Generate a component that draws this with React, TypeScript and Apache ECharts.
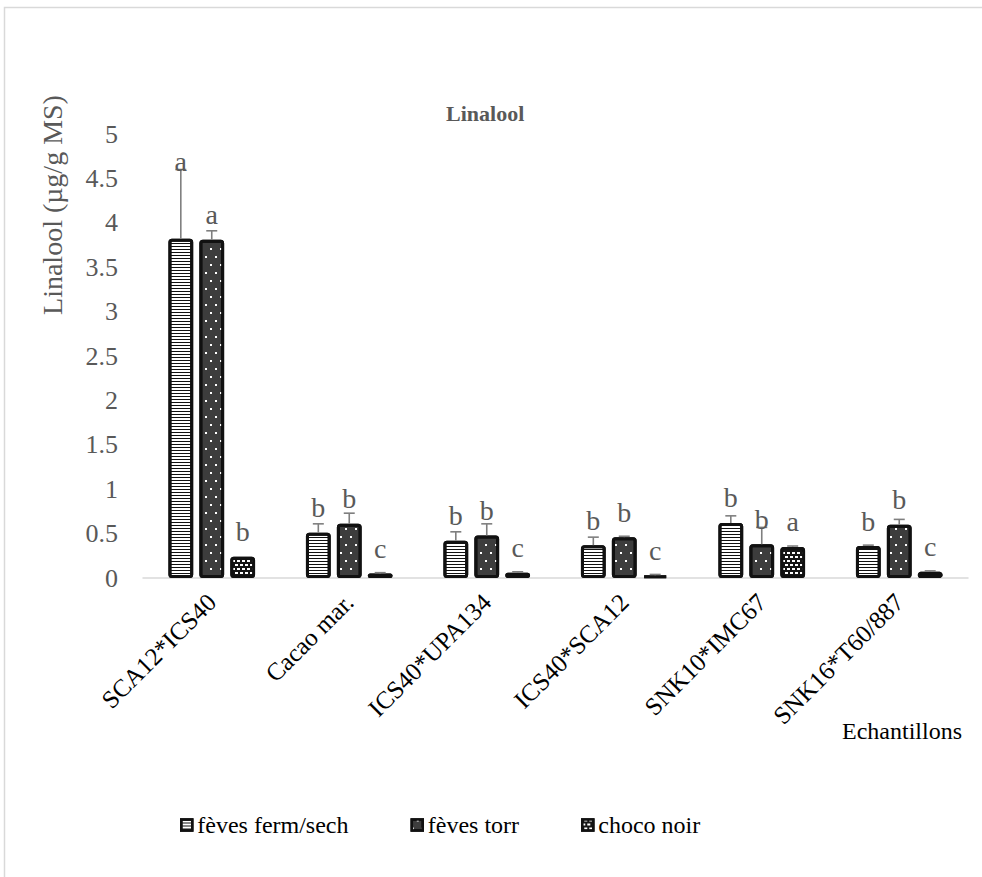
import React, { useEffect, useRef } from "react";
import * as echarts from "echarts";

const categories = ["SCA12*ICS40", "Cacao mar.", "ICS40*UPA134", "ICS40*SCA12", "SNK10*IMC67", "SNK16*T60/887"];
const seriesNames = ["fèves ferm/sech", "fèves torr", "choco noir"];
const fermValues = [3.82, 0.51, 0.42, 0.37, 0.62, 0.36];
const fermErrors = [0.78, 0.1, 0.1, 0.09, 0.08, 0.01];
const torrValues = [3.81, 0.61, 0.48, 0.46, 0.38, 0.6];
const torrErrors = [0.1, 0.12, 0.13, 0.01, 0.19, 0.06];
const chocoValues = [0.24, 0.05, 0.06, 0.03, 0.35, 0.07];
const chocoErrors = [0.0, 0.01, 0.01, 0.01, 0.01, 0.01];
const fermLetters = ["a", "b", "b", "b", "b", "b"];
const torrLetters = ["a", "b", "b", "b", "b", "b"];
const chocoLetters = ["b", "c", "c", "c", "a", "c"];
const yTicks = { min: 0, max: 5, interval: 0.5 };

const FONT = "'Liberation Serif', 'Times New Roman', serif";
const BAR_W = 0.18;
const BAR_GAP = 0.25;

export default function App() {
  const ref = useRef<HTMLDivElement>(null);
  useEffect(() => {
    if (!ref.current) return;
    const chart = echarts.init(ref.current, undefined, { renderer: "svg" });
    const values = [fermValues, torrValues, chocoValues];
    const errors = [fermErrors, torrErrors, chocoErrors];
    const letters = [fermLetters, torrLetters, chocoLetters];
    const errData: any[] = [];
    const errLetters: string[] = [];
    for (let s = 0; s < 3; s++) {
      for (let c = 0; c < categories.length; c++) {
        errData.push([c, values[s][c], errors[s][c], s]);
        errLetters.push(letters[s][c]);
      }
    }
    const barStyles = [
      {
        color: "#ffffff",
        borderColor: "#111111",
        borderWidth: 3,
        borderRadius: 2,
        decal: { symbol: "rect", symbolSize: 1, color: "#111111", dashArrayX: [1, 0], dashArrayY: [1, 2], rotation: 0 },
      },
      {
        color: "#3d3d3d",
        borderColor: "#111111",
        borderWidth: 3,
        borderRadius: 2,
        decal: { symbol: "rect", symbolSize: 1, color: "#ffffff", dashArrayX: [[2, 8], [0, 5, 2, 3]], dashArrayY: [2, 6], rotation: 0 },
      },
      {
        color: "#161616",
        borderColor: "#111111",
        borderWidth: 3,
        borderRadius: 2,
        decal: { symbol: "rect", symbolSize: 1, color: "#ffffff", dashArrayX: [[3, 2], [0, 2, 3, 0]], dashArrayY: [2, 2], rotation: 0 },
      },
    ];
    const option: any = {
      animation: false,
      backgroundColor: "#ffffff",
      textStyle: { fontFamily: FONT },
      title: {
        text: "Linalool",
        left: 441,
        top: 97,
        textStyle: { fontFamily: FONT, fontSize: 22, fontWeight: "bold", color: "#595959" },
      },
      legend: {
        data: seriesNames,
        left: 175,
        top: 808,
        icon: "rect",
        itemWidth: 11,
        itemHeight: 11,
        itemGap: 62,
        itemStyle: { borderWidth: 2.5 },
        textStyle: { fontFamily: FONT, fontSize: 24, color: "#000000" },
      },
      grid: { left: 143, right: 14, top: 134, bottom: 299, containLabel: false },
      xAxis: {
        type: "category",
        data: categories,
        axisTick: { show: false },
        axisLine: { lineStyle: { color: "#d9d9d9", width: 1.5 } },
        axisLabel: { rotate: 45, margin: 20, fontFamily: FONT, fontSize: 25, color: "#000000", interval: 0 },
      },
      yAxis: {
        type: "value",
        min: yTicks.min,
        max: yTicks.max,
        interval: yTicks.interval,
        splitLine: { show: false },
        axisLine: { show: false },
        axisTick: { show: false },
        axisLabel: { margin: 25, fontFamily: FONT, fontSize: 26, color: "#595959" },
      },
      graphic: [
        {
          type: "rect",
          shape: { x: 4.5, y: 7.5, width: 1200, height: 1200 },
          style: { fill: "none", stroke: "#d9d9d9", lineWidth: 1.5 },
          silent: true,
        },
        {
          type: "text",
          x: 52,
          y: 205,
          rotation: Math.PI / 2,
          style: {
            text: "Linalool (µg/g MS)",
            fontFamily: FONT,
            fontSize: 28,
            fill: "#595959",
            textAlign: "center",
            textVerticalAlign: "middle",
          },
        },
        {
          type: "text",
          x: 962,
          y: 731,
          style: {
            text: "Echantillons",
            fontFamily: FONT,
            fontSize: 24,
            fill: "#000000",
            textAlign: "right",
            textVerticalAlign: "middle",
          },
        },
      ],
      series: [
        ...seriesNames.map((name, i) => ({
          name,
          type: "bar",
          data: values[i],
          barWidth: `${BAR_W * 100}%`,
          barGap: `${BAR_GAP * 100}%`,
          itemStyle: barStyles[i],
          emphasis: { disabled: true },
        })),
        {
          name: "errors",
          type: "custom",
          data: errData,
          z: 10,
          silent: true,
          renderItem: (params: any, api: any) => {
            const c = api.value(0);
            const v = api.value(1);
            const e = api.value(2);
            const s = api.value(3);
            const band = api.size([1, 0])[0];
            const bw = band * BAR_W;
            const gap = bw * BAR_GAP;
            const total = 3 * bw + 2 * gap;
            const base = api.coord([c, 0]);
            const cx = base[0] - total / 2 + bw / 2 + s * (bw + gap);
            const yTop = api.coord([c, v])[1];
            const yErr = api.coord([c, v + e])[1];
            const children: any[] = [];
            if (e > 0) {
              children.push({
                type: "line",
                shape: { x1: cx, y1: yTop, x2: cx, y2: yErr },
                style: { stroke: "#7f7f7f", lineWidth: 1.6 },
              });
              children.push({
                type: "line",
                shape: { x1: cx - 5.5, y1: yErr, x2: cx + 5.5, y2: yErr },
                style: { stroke: "#7f7f7f", lineWidth: 1.6 },
              });
            }
            const letterY = Math.min(yTop - 17, yErr);
            children.push({
              type: "text",
              x: cx,
              y: letterY + 6,
              style: {
                text: errLetters[params.dataIndex],
                fontFamily: FONT,
                fontSize: 28,
                fill: "#595959",
                textAlign: "center",
                textVerticalAlign: "bottom",
              },
            });
            return { type: "group", children };
          },
        },
      ],
    };
    chart.setOption(option);
    return () => chart.dispose();
  }, []);
  return (
    <div
      ref={ref}
      style={{ position: "fixed", left: 0, top: 0, width: 982, height: 877, background: "#fff" }}
    />
  );
}
